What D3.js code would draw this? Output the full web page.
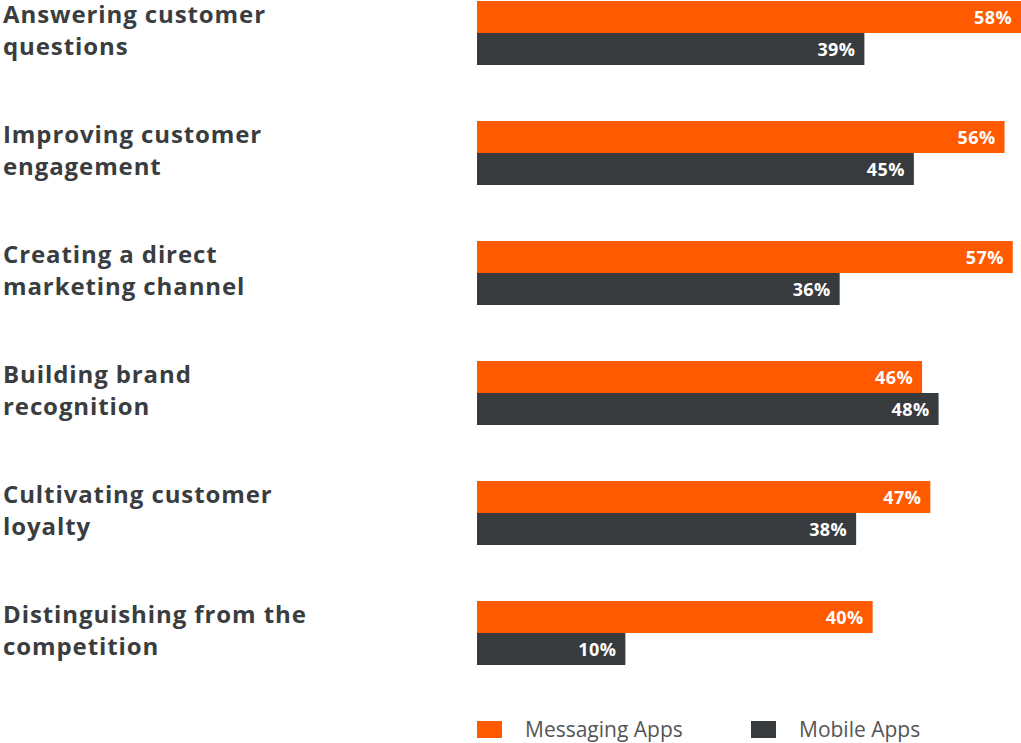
<!DOCTYPE html>
<html>
<head>
<meta charset="utf-8">
<script src="https://cdn.jsdelivr.net/npm/d3@7"></script>
<style>
  body { margin: 0; background: #fff; }
  svg { display: block; }
</style>
</head>
<body>
<div id="chart"></div>
<script>
(function () {

  // chart data
  const categories = [
    ['Answering customer', 'questions'],
    ['Improving customer', 'engagement'],
    ['Creating a direct', 'marketing channel'],
    ['Building brand', 'recognition'],
    ['Cultivating customer', 'loyalty'],
    ['Distinguishing from the', 'competition']
  ];
  const messaging = [58, 56, 57, 46, 47, 40];
  const mobile = [39, 45, 36, 48, 38, 10];
  const seriesNames = ['Messaging Apps', 'Mobile Apps'];
  const colors = ['#ff5a00', '#383b3d'];

  const width = 1021, height = 743;
  const barH = 32;

  const svg = d3.select('#chart').append('svg')
    .attr('width', width)
    .attr('height', height);

  // bar length scale (bars start at x=477)
  const x = d3.scaleLinear()
    .domain([-8, 58])
    .range([477, 1021]);

  const y = d3.scaleBand()
    .domain(d3.range(categories.length))
    .range([1, 721])
    .paddingInner(0);

  const font = '"Open Sans", "Noto Sans", sans-serif';

  // category labels, two lines each
  const labels = svg.append('g').selectAll('text')
    .data(categories)
    .enter().append('text')
    .attr('x', 3)
    .attr('y', (d, i) => y(i) + 22)
    .style('font-family', font)
    .style('font-weight', 'bold')
    .style('font-size', '24px')
    .style('letter-spacing', '0.9px')
    .style('fill', '#3a3d40');
  labels.selectAll('tspan')
    .data(d => d)
    .enter().append('tspan')
    .attr('x', 3)
    .attr('dy', (d, i) => i === 0 ? 0 : 32)
    .text(d => d);

  // both series
  [messaging, mobile].forEach((values, s) => {
    const g = svg.append('g');
    g.selectAll('rect')
      .data(values)
      .enter().append('rect')
      .attr('x', x.range()[0])
      .attr('y', (d, i) => y(i) + s * barH)
      .attr('width', d => x(d) - x.range()[0])
      .attr('height', barH)
      .style('fill', colors[s]);

    // value labels inside the bar end
    g.selectAll('text')
      .data(values)
      .enter().append('text')
      .attr('x', d => x(d) - 9)
      .attr('y', (d, i) => y(i) + s * barH + 23)
      .attr('text-anchor', 'end')
      .style('font-family', font)
      .style('font-weight', 'bold')
      .style('font-size', '18px')
      .style('letter-spacing', '0.4px')
      .style('fill', '#fff')
      .text(d => d + '%');
  });

  // legend
  const legend = svg.append('g').selectAll('g')
    .data(seriesNames)
    .enter().append('g')
    .attr('transform', (d, i) => `translate(${477 + i * 274}, 721)`);
  legend.append('rect')
    .attr('width', 25)
    .attr('height', 17)
    .style('fill', (d, i) => colors[i]);
  legend.append('text')
    .attr('x', 48)
    .attr('y', 16)
    .style('font-family', font)
    .style('font-size', '21px')
    .style('fill', '#555')
    .text(d => d);

})();
</script>
</body>
</html>
